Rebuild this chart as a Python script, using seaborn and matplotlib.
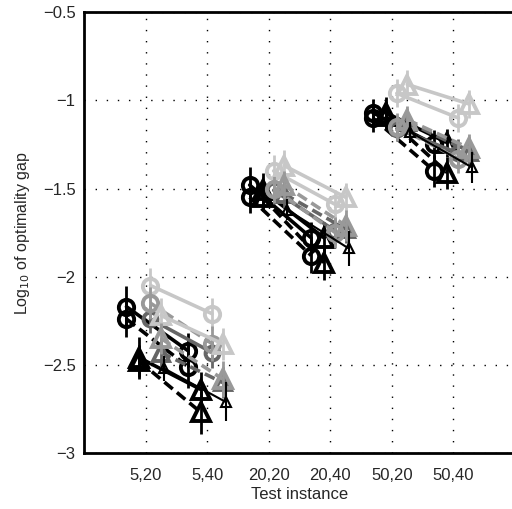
import numpy as np
import pandas as pd
import matplotlib
matplotlib.use("Agg")
import matplotlib.pyplot as plt
import seaborn as sns

# test instances, paired within a group (n,20 -> n,40)
instances = ["5,20", "5,40", "20,20", "20,40", "50,20", "50,40"]
groups = [[0, 1], [2, 3], [4, 5]]

# series styles: colour, marker, linestyle, marker size, x offset
colors  = ["black", "black", "black", "black", "0.4", "0.4",
           "0.78", "0.6", "0.78", "0.6", "black"]
markers = ["o", "o", "^", "^", "o", "^", "o", "o", "^", "^", "^"]
lstyles = ["-", "--", "-", "--", "-", "--", "-", "--", "-", "--", "-"]
msizes  = [11, 11, 13, 13, 10, 11, 11, 11, 13, 13, 7]
offsets = [-0.31, -0.31, -0.10, -0.10, 0.08, 0.25,
           0.08, 0.08, 0.25, 0.25, 0.30]

# log10 optimality gap, one value per test instance
gap = [
    [-2.17, -2.42, -1.48, -1.78, -1.07, -1.25],
    [-2.24, -2.51, -1.55, -1.88, -1.10, -1.40],
    [-2.46, -2.64, -1.51, -1.78, -1.07, -1.24],
    [-2.48, -2.77, -1.55, -1.92, -1.09, -1.41],
    [-2.24, -2.43, -1.51, -1.74, -1.16, -1.30],
    [-2.43, -2.60, -1.53, -1.73, -1.12, -1.29],
    [-2.05, -2.21, -1.40, -1.59, -0.96, -1.10],
    [-2.15, -2.38, -1.50, -1.75, -1.15, -1.33],
    [-2.22, -2.38, -1.37, -1.55, -0.91, -1.02],
    [-2.35, -2.58, -1.48, -1.71, -1.11, -1.27],
    [-2.52, -2.71, -1.62, -1.84, -1.18, -1.38],
]
# half length of the error bars
err = [
    [0.12, 0.10, 0.10, 0.09, 0.08, 0.08],
    [0.10, 0.12, 0.09, 0.10, 0.08, 0.09],
    [0.12, 0.10, 0.10, 0.09, 0.09, 0.08],
    [0.09, 0.12, 0.08, 0.10, 0.08, 0.09],
    [0.08, 0.09, 0.08, 0.08, 0.07, 0.08],
    [0.08, 0.09, 0.08, 0.08, 0.07, 0.08],
    [0.10, 0.09, 0.09, 0.08, 0.08, 0.08],
    [0.09, 0.10, 0.08, 0.09, 0.08, 0.08],
    [0.10, 0.09, 0.09, 0.08, 0.08, 0.08],
    [0.09, 0.10, 0.08, 0.09, 0.08, 0.08],
    [0.07, 0.11, 0.06, 0.10, 0.06, 0.09],
]

yticks = [-3, -2.5, -2, -1.5, -1, -0.5]
ytick_labels = ["\u22123", "\u22122.5", "\u22122", "\u22121.5", "\u22121", "\u22120.5"]

sns.set_style("white")
plt.rcParams["font.family"] = ["Liberation Sans", "DejaVu Sans"]
plt.rcParams["lines.dashed_pattern"] = (3.0, 1.5)

fig = plt.figure(figsize=(5.12, 5.09), dpi=100)
ax = fig.add_axes([0.164, 0.110, 0.842, 0.866])

for s in range(len(gap)):
    small = msizes[s] < 9
    for g in groups:
        xs = [i + 1 + offsets[s] for i in g]
        ys = [gap[s][i] for i in g]
        es = [err[s][i] for i in g]
        ax.errorbar(xs, ys, yerr=es, fmt="none", ecolor=colors[s],
                    elinewidth=1.5 if small else 2.0, capsize=0,
                    zorder=2 + s * 0.1)
        sns.lineplot(x=xs, y=ys, ax=ax, color=colors[s], linestyle=lstyles[s],
                     linewidth=1.5 if small else 2.6, marker=markers[s],
                     markersize=msizes[s], markerfacecolor="none",
                     markeredgecolor=colors[s],
                     markeredgewidth=1.5 if small else 2.8,
                     zorder=2 + s * 0.1)

ax.set_xlim(0, 7)
ax.set_ylim(-3, -0.5)
ax.set_xticks(range(1, 7))
ax.set_xticklabels(instances)
ax.set_yticks(yticks)
ax.set_yticklabels(ytick_labels)
ax.tick_params(direction="in", length=3, width=1, labelsize=12, pad=6)
ax.tick_params(axis="x", pad=11)
ax.grid(True, color="black", linestyle=(0, (1, 7)), linewidth=1)
for sp in ax.spines.values():
    sp.set_linewidth(2)
    sp.set_color("black")
ax.set_xlabel("Test instance", fontsize=12, labelpad=3)
ax.set_ylabel("Log$_{10}$ of optimality gap", fontsize=11.5, labelpad=8)

fig.savefig("out.png", dpi=100)
